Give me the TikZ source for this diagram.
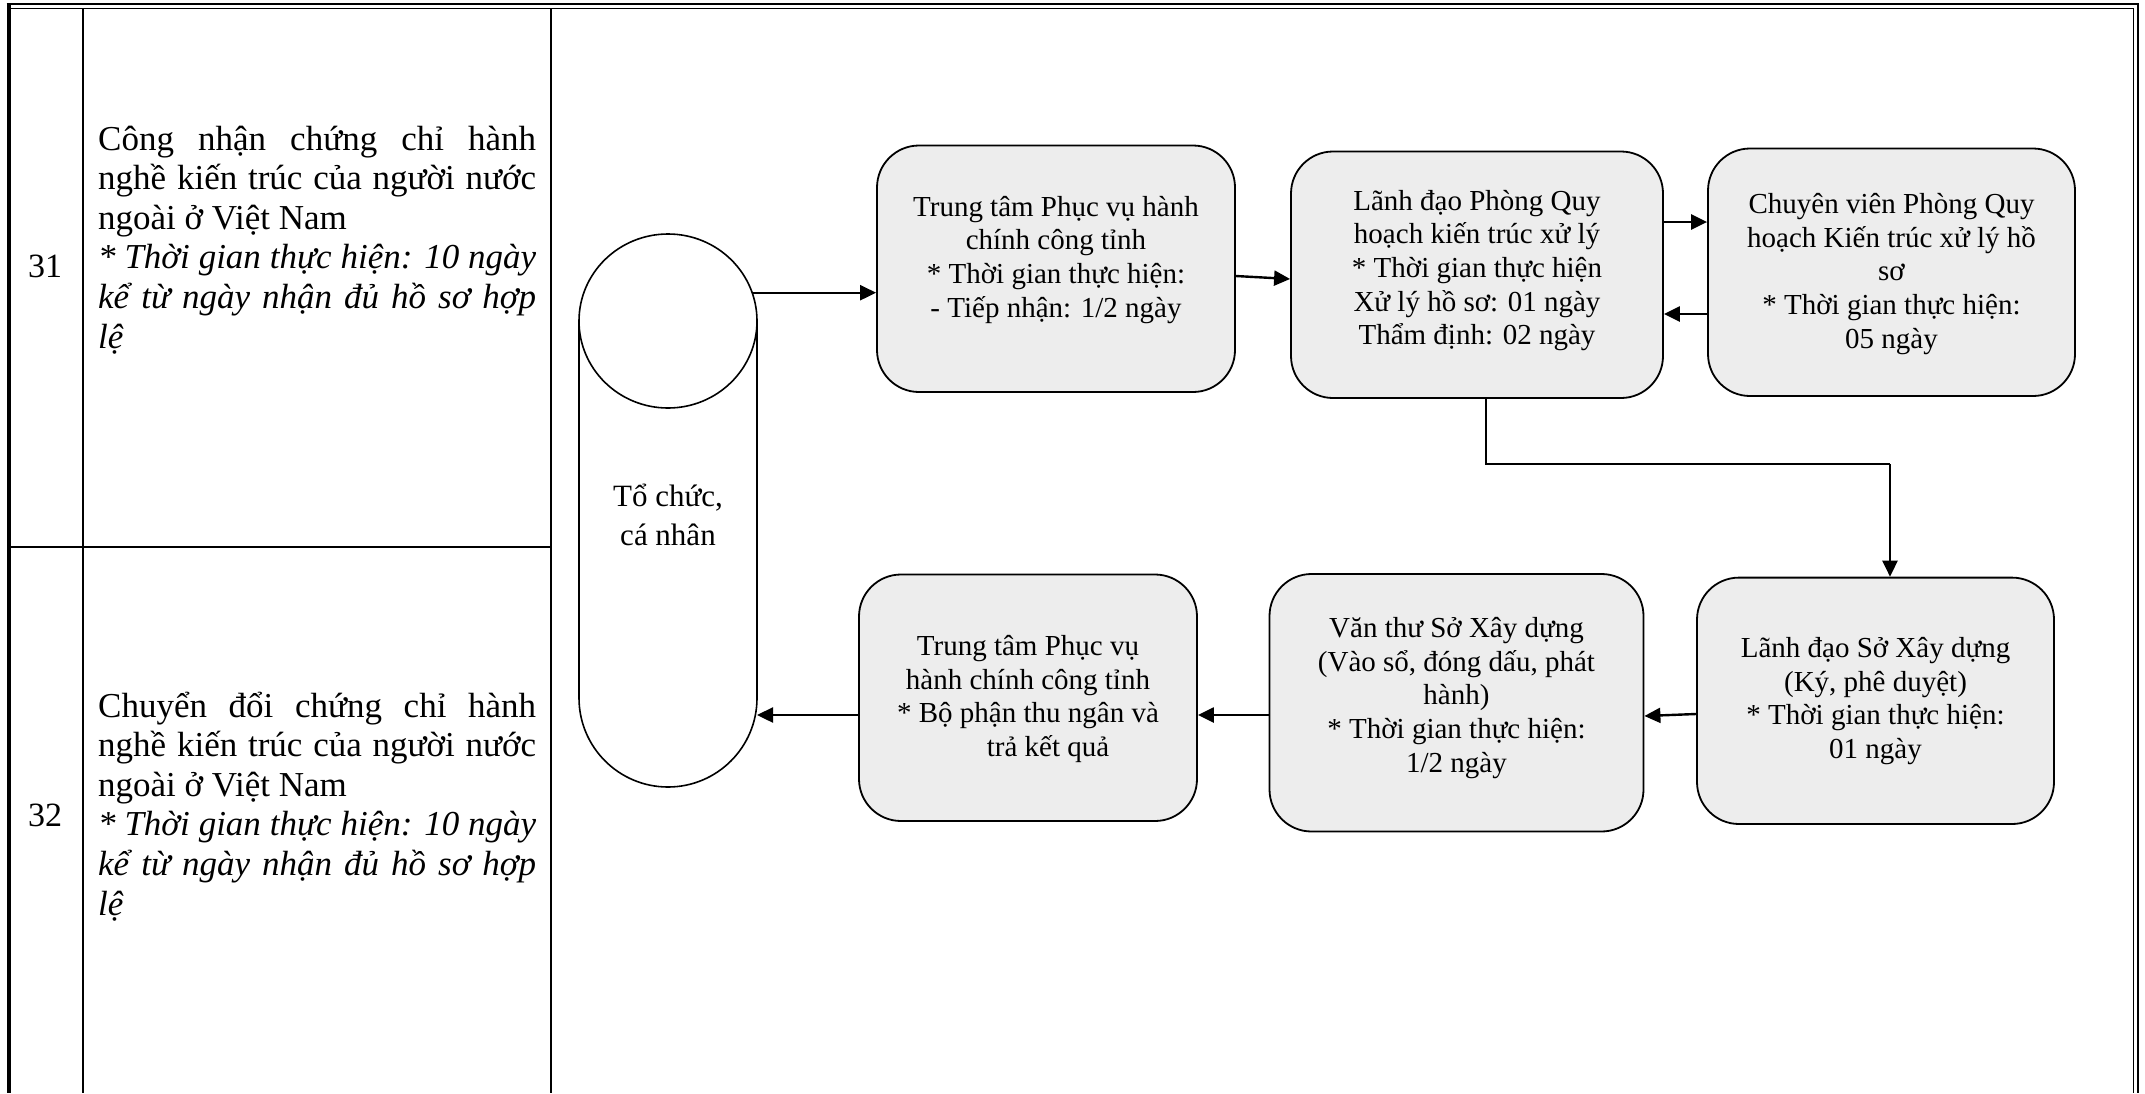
\documentclass[tikz,border=0pt]{standalone}
\usepackage{fontspec}
\setmainfont{Liberation Serif}
\usetikzlibrary{arrows.meta,calc}
\definecolor{boxgray}{RGB}{237,237,237}
\newcommand{\celltext}[2]{\parbox[t]{438pt}{\fontsize{35}{39.6}\selectfont\tolerance=10000\hyphenpenalty=10000\parindent=0pt\parskip=0pt #1\par{\itshape #2\par}}}
\begin{document}
\begin{tikzpicture}[x=1pt,y=-1pt,
  procbox/.style={draw,line width=1.8pt,fill=boxgray,rounded corners=42pt,inner sep=0pt},
  boxtext/.style={align=center,font=\fontsize{29}{33.6}\selectfont,inner sep=0pt},
  arr/.style={line width=2.4pt,-{Triangle[length=16pt,width=15pt]}},
  tline/.style={line width=2pt},
  cylline/.style={line width=1.6pt,fill=white},
  numtext/.style={anchor=base,inner sep=0pt,font=\fontsize{34}{39}\selectfont}
  ]
\useasboundingbox[fill=white] (0,0) rectangle (2145,1093);

% table frame
\draw[line width=4pt] (8.5,3) -- (8.5,1093);
\draw[line width=1.8pt] (6.5,4) -- (2138,4) -- (2138,1093);
\draw[line width=1.8pt] (10.5,8.5) -- (2133.5,8.5) -- (2133.5,1093);
\draw[tline] (83,8.5) -- (83,1093);
\draw[tline] (551,8.5) -- (551,1093);
\draw[tline] (10.5,547) -- (551,547);

% table texts
\node[numtext] (n31) at (45,277) {31};
\node[numtext] (n32) at (45,826) {32};
\node[anchor=base west,inner sep=0pt] (d31) at (98,150)
  {\celltext{Công nhận chứng chỉ hành\linebreak nghề kiến trúc của người nước\linebreak ngoài ở Việt Nam}{* Thời gian thực hiện: 10 ngày\linebreak kể từ ngày nhận đủ hồ sơ hợp\linebreak lệ}};
\node[anchor=base west,inner sep=0pt] (d32) at (98,717)
  {\celltext{Chuyển đổi chứng chỉ hành\linebreak nghề kiến trúc của người nước\linebreak ngoài ở Việt Nam}{* Thời gian thực hiện: 10 ngày\linebreak kể từ ngày nhận đủ hồ sơ hợp\linebreak lệ}};

% cylinder
\draw[cylline] (579,321) -- (579,698) arc[start angle=180,end angle=0,x radius=89,y radius=89] -- (757,321);
\draw[cylline] (668,321) ellipse[x radius=89,y radius=87];
\node[align=center,inner sep=0pt,font=\fontsize{31}{39}\selectfont] (cyl) at (668,515) {Tổ chức,\\cá nhân};
\coordinate (cylout) at (752.5,292.7);
\coordinate (cylin) at (757,715);

% boxes
\node[procbox,minimum width=358pt,minimum height=246.5pt] (b1) at (1056,268.75) {};
\node[procbox,minimum width=372pt,minimum height=246.5pt] (b2) at (1477,274.75) {};
\node[procbox,minimum width=367pt,minimum height=247.5pt] (b3) at (1891.5,272.25) {};
\node[procbox,minimum width=374pt,minimum height=257.5pt] (b4) at (1456.5,702.75) {};
\node[procbox,minimum width=357pt,minimum height=246.4pt] (b5) at (1875.5,700.8) {};
\node[procbox,minimum width=338pt,minimum height=246.5pt] (b6) at (1028,697.75) {};

\node[boxtext] (t1) at (1056,259.7) {Trung tâm Phục vụ hành\\chính công tỉnh\\* Thời gian thực hiện:\\- Tiếp nhận: 1/2 ngày};
\node[boxtext] (t2) at (1477,270.6) {Lãnh đạo Phòng Quy\\hoạch kiến trúc xử lý\\* Thời gian thực hiện\\Xử lý hồ sơ: 01 ngày\\Thẩm định: 02 ngày};
\node[boxtext] (t3) at (1891.5,274) {Chuyên viên Phòng Quy\\hoạch Kiến trúc xử lý hồ\\sơ\\* Thời gian thực hiện:\\05 ngày};
\node[boxtext] (t4) at (1456.5,698) {Văn thư Sở Xây dựng\\(Vào sổ, đóng dấu, phát\\hành)\\* Thời gian thực hiện:\\1/2 ngày};
\node[boxtext] (t5) at (1875.5,701) {Lãnh đạo Sở Xây dựng\\(Ký, phê duyệt)\\* Thời gian thực hiện:\\01 ngày};
\node[boxtext] (t6) at (1028,699) {Trung tâm Phục vụ\\hành chính công tỉnh\\* Bộ phận thu ngân và\\\hspace*{40pt}trả kết quả};

% connectors
\draw[arr] (cylout) -- (cylout -| b1.west);
\draw[arr] ($(b1.east)+(0,7.25)$) -- ($(b2.west)+(0,4.25)$);
\draw[arr] ($(b2.east)+(0,-52.75)$) -- ($(b3.west)+(0,-50.25)$);
\draw[arr] ($(b3.west)+(0,41.75)$) -- ($(b2.east)+(0,39.25)$);
\coordinate (e1) at (1486,464);
\coordinate (e2) at (1890,464);
\draw[line width=1.4pt] (b2.south -| e1) -- (e1) -- (e2);
\draw[arr] (e2) -- (e2 |- b5.north);
\draw[arr] ($(b5.west)+(0,13.2)$) -- ($(b4.east)+(0,13.25)$);
\draw[arr] ($(b4.west)+(0,12.25)$) -- ($(b6.east)+(0,17.25)$);
\draw[arr] ($(b6.west)+(0,17.25)$) -- (cylin);
\end{tikzpicture}
\end{document}
